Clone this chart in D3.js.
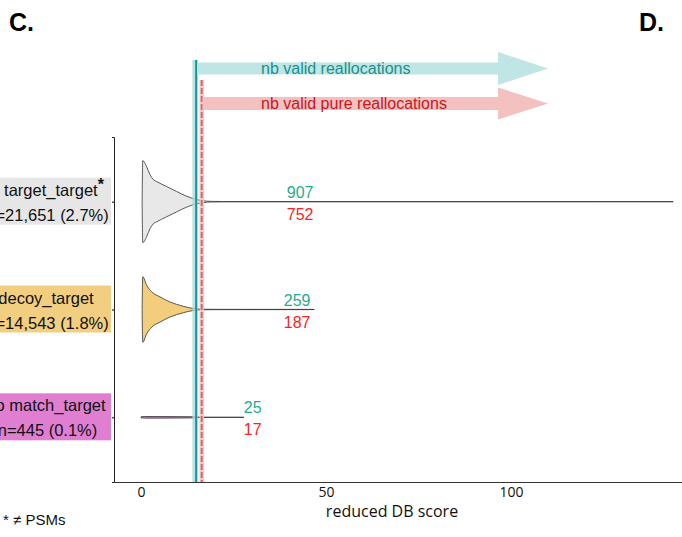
<!DOCTYPE html>
<html>
<head>
<meta charset="utf-8">
<script src="https://cdn.jsdelivr.net/npm/d3@7"></script>
<style>
  html, body { margin: 0; padding: 0; background: #fff; }
  svg { display: block; }
</style>
</head>
<body>
<div id="chart"></div>
<script>
// ─── Data ───
const categories = ["target_target", "decoy_target", "no match_target"];
const countLabels = ["n=21,651 (2.7%)", "n=14,543 (1.8%)", "n=445 (0.1%)"];
const boxColors = ["#e6e6e6", "#f2cf80", "#e07fd1"];
const violinFills = ["#e8e8e8", "#f2cd7c", "#e07fd1"];

// violin outlines: score -> relative half width
const ttScores = [0.3, 0.36, 0.42, 0.46, 1.54, 2.43, 3.3, 4.24, 6.9, 9.6, 12.4, 15.1, 17, 19, 22, 143.8];
const ttDens   = [0.0, 0.55, 0.9, 1.0, 0.85, 0.66, 0.54, 0.49, 0.37, 0.25, 0.13, 0.05, 0.02, 0.008, 0.004, 0.003];
const dtScores = [0.3, 0.36, 0.42, 0.46, 1.54, 2.9, 5.1, 7.8, 11.4, 14.1, 17, 20, 46.8];
const dtDens   = [0.0, 0.45, 0.72, 0.8, 0.59, 0.43, 0.31, 0.185, 0.08, 0.025, 0.008, 0.004, 0.003];
const nmScores = [0.0, 1, 14, 16, 27.8];
const nmDens   = [0.012, 0.02, 0.015, 0.004, 0.003];

const validCounts = [907, 259, 25];
const pureCounts = [752, 187, 17];
const countPos = [43, 42.2, 30.2];

const validThreshold = 14.9;
const pureThreshold = 16.4;
const arrowEnd = 110;
const xTicks = [0, 50, 100];
const xDomain = [-7.3, 146.2];

// ─── Layout ───
const W = 682, H = 537;
const svg = d3.select("#chart").append("svg").attr("width", W).attr("height", H);

const x = d3.scaleLinear().domain(xDomain).range([114, 682]);
const y = d3.scalePoint().domain(categories).range([137, 482]).padding(0.6);
const wScale = d3.scaleLinear().domain([0, 1]).range([0, 41]);

// ── Panel letters ──
svg.append("text").attr("x", 9).attr("y", 31)
  .style("font", "bold 25px 'Liberation Sans', Arial, sans-serif").text("C.");
svg.append("text").attr("x", 639).attr("y", 31)
  .style("font", "bold 25px 'Liberation Sans', Arial, sans-serif").text("D.");

// ── Category label boxes ──
const labels = svg.append("g");
categories.forEach((c, i) => {
  const cy = y(c);
  labels.append("rect").attr("x", 0).attr("y", cy - 24).attr("width", 111).attr("height", 47)
    .attr("fill", boxColors[i]);
  const t1 = labels.append("text").attr("x", i === 0 ? 54 : 46).attr("y", cy - 6)
    .attr("text-anchor", "middle")
    .style("font", "16.5px 'Liberation Sans', Arial, sans-serif").style("fill", "#111");
  t1.append("tspan").text(c);
  if (i === 0) {
    t1.append("tspan").attr("dy", -6).style("font-weight", "bold").style("font-size", "16px").text("*");
  }
  labels.append("text").attr("x", 47.5).attr("y", cy + 19)
    .attr("text-anchor", "middle")
    .style("font", "16.5px 'Liberation Sans', Arial, sans-serif").style("fill", "#111")
    .text(countLabels[i]);
});

// ── Axes ──
svg.append("g").attr("transform", "translate(114,0)")
  .call(d3.axisLeft(y).tickSize(2).tickFormat(""))
  .call(g => g.select(".domain").attr("stroke", "#222").attr("stroke-width", 1));

const xa = svg.append("g").attr("transform", "translate(0,482)")
  .call(d3.axisBottom(x).tickValues(xTicks).tickSize(0).tickSizeOuter(0).tickPadding(5));
xa.select(".domain").attr("stroke", "#333").attr("stroke-width", 1.2);
xa.selectAll("text").style("font", "14px 'Open Sans', sans-serif").style("fill", "#111");

svg.append("text").attr("x", 392).attr("y", 517).attr("text-anchor", "middle")
  .style("font", "16px 'Open Sans', sans-serif").style("fill", "#111")
  .text("reduced DB score");

svg.append("text").attr("x", 3).attr("y", 525)
  .style("font", "15px 'Liberation Sans', Arial, sans-serif").style("fill", "#111")
  .text("* \u2260 PSMs");

// ── Violins ──
const violins = [
  { s: ttScores, d: ttDens },
  { s: dtScores, d: dtDens },
  { s: nmScores, d: nmDens },
];
violins.forEach((v, i) => {
  const cy = y(categories[i]);
  const pts = v.s.map((s, k) => [s, v.d[k]]);
  const area = d3.area()
    .x(p => x(p[0]))
    .y0(p => cy - wScale(p[1]))
    .y1(p => cy + wScale(p[1]))
    .curve(d3.curveMonotoneX);
  svg.append("path").attr("d", area(pts))
    .attr("fill", violinFills[i])
    .attr("stroke", "#333").attr("stroke-width", 0.8);
});

// ── Threshold lines ──
svg.append("line").attr("x1", x(validThreshold) - 1).attr("x2", x(validThreshold) - 1)
  .attr("y1", 60).attr("y2", 482).attr("stroke", "#a9dcdb").attr("stroke-width", 5.5).attr("opacity", 0.8);
svg.append("line").attr("x1", x(validThreshold)).attr("x2", x(validThreshold))
  .attr("y1", 60).attr("y2", 482).attr("stroke", "#0f9b9b").attr("stroke-width", 2);
svg.append("line").attr("x1", x(pureThreshold)).attr("x2", x(pureThreshold))
  .attr("y1", 80).attr("y2", 482).attr("stroke", "#f6cccc").attr("stroke-width", 4.5);
svg.append("line").attr("x1", x(pureThreshold)).attr("x2", x(pureThreshold))
  .attr("y1", 80).attr("y2", 482).attr("stroke", "#e36262").attr("stroke-width", 2)
  .attr("stroke-dasharray", "6,2");

// ── Arrows ──
const arrows = [
  { from: validThreshold, cy: 68.5, body: 12, head: 33, fill: "#bfe6e4", color: "#1a9190", text: "nb valid reallocations" },
  { from: pureThreshold, cy: 103.5, body: 13, head: 32, fill: "#f3c1c0", color: "#c8161d", text: "nb valid pure reallocations" },
];
arrows.forEach(a => {
  const x0 = x(a.from) + 1, x1 = x(arrowEnd), hx = x1 - 50;
  const p = d3.path();
  p.moveTo(x0, a.cy - a.body / 2);
  p.lineTo(hx, a.cy - a.body / 2);
  p.lineTo(hx, a.cy - a.head / 2);
  p.lineTo(x1, a.cy);
  p.lineTo(hx, a.cy + a.head / 2);
  p.lineTo(hx, a.cy + a.body / 2);
  p.lineTo(x0, a.cy + a.body / 2);
  p.closePath();
  svg.append("path").attr("d", p.toString()).attr("fill", a.fill);
  svg.append("text").attr("x", 261).attr("y", a.cy + 5)
    .style("font", "16px 'Liberation Sans', Arial, sans-serif").style("fill", a.color)
    .text(a.text);
});

// ── Counts ──
categories.forEach((c, i) => {
  const cy = y(c);
  svg.append("text").attr("x", x(countPos[i])).attr("y", cy - 4).attr("text-anchor", "middle")
    .style("font", "16px 'Liberation Sans', Arial, sans-serif").style("fill", "#1fae8b")
    .text(validCounts[i]);
  svg.append("text").attr("x", x(countPos[i])).attr("y", cy + 18).attr("text-anchor", "middle")
    .style("font", "16px 'Liberation Sans', Arial, sans-serif").style("fill", "#ff2222")
    .text(pureCounts[i]);
});
</script>
</body>
</html>
